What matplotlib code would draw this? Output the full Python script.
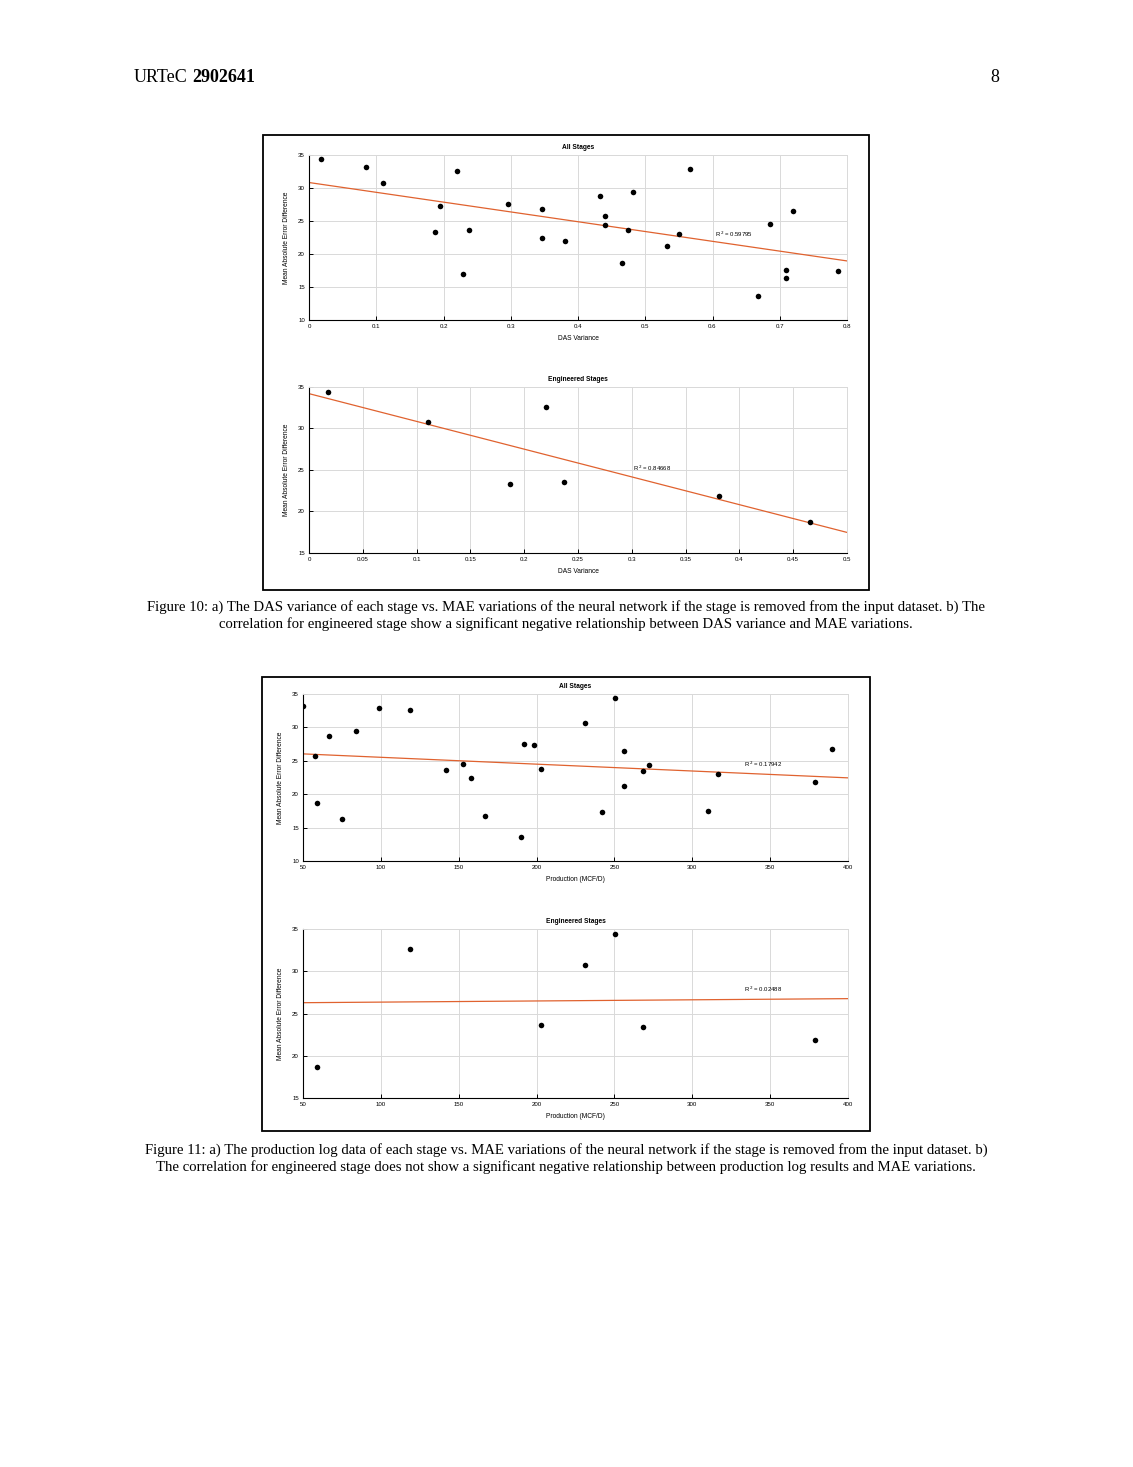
import matplotlib
matplotlib.use("Agg")
import matplotlib.pyplot as plt
from matplotlib.patches import Rectangle

# ---------------- data ----------------
das_all_x = [0.018, 0.085, 0.110, 0.220, 0.195, 0.187, 0.238, 0.229, 0.296, 0.347,
             0.347, 0.381, 0.432, 0.440, 0.440, 0.474, 0.465, 0.482, 0.533, 0.550,
             0.567, 0.668, 0.685, 0.719, 0.710, 0.710, 0.786]
das_all_y = [34.35, 33.2, 30.7, 32.6, 27.3, 23.4, 23.6, 16.9, 27.5, 26.75,
             22.5, 21.9, 28.8, 25.8, 24.4, 23.7, 18.7, 29.4, 21.2, 23.1,
             32.9, 13.6, 24.5, 26.5, 17.6, 16.4, 17.5]
das_all_fit = (30.83, -14.85)       # intercept, slope
das_all_r2 = "0.59795"

das_eng_x = [0.0174, 0.1107, 0.1867, 0.2203, 0.2373, 0.3813, 0.466]
das_eng_y = [34.44, 30.76, 23.36, 32.6, 23.6, 21.84, 18.68]
das_eng_fit = (34.2, -33.44)
das_eng_r2 = "0.84668"

prod_all_x = [50.0, 57.8, 59.0, 67.0, 74.8, 83.8, 98.9, 118.9, 142.0, 153.0,
              158.0, 167.0, 190.1, 192.1, 198.1, 203.1, 231.2, 242.2, 250.2, 256.2,
              256.2, 268.2, 272.2, 316.3, 310.3, 378.5, 389.5]
prod_all_y = [33.18, 25.75, 18.66, 28.75, 16.35, 29.39, 32.88, 32.54, 23.63, 24.47,
              22.45, 16.8, 13.6, 27.5, 27.3, 23.7, 30.7, 17.4, 34.36, 26.44,
              21.18, 23.4, 24.3, 23.0, 17.5, 21.8, 26.73]
prod_all_fit = (26.55, -0.01026)
prod_all_r2 = "0.17942"

prod_eng_x = [59.0, 118.9, 203.1, 231.2, 250.2, 268.2, 378.5]
prod_eng_y = [18.67, 32.6, 23.6, 30.74, 34.41, 23.4, 21.86]
prod_eng_fit = (26.21, 0.00137)
prod_eng_r2 = "0.02488"

das_ticks_all = [0, 0.1, 0.2, 0.3, 0.4, 0.5, 0.6, 0.7, 0.8]
das_ticks_eng = [0, 0.05, 0.1, 0.15, 0.2, 0.25, 0.3, 0.35, 0.4, 0.45, 0.5]
prod_ticks = [50, 100, 150, 200, 250, 300, 350, 400]

# ---------------- figure ----------------
W, H = 1133, 1467
fig = plt.figure(figsize=(W / 100, H / 100), dpi=100)
plt.rcParams['font.family'] = ['Liberation Sans', 'DejaVu Sans']

def rect(l, t, r, b):
    return [l / W, 1 - b / H, (r - l) / W, (b - t) / H]

LINE_COL = '#E0622F'

def panel(box, xs, ys, fit, r2, xlim, xticks, ylim, yticks, title, xlabel, r2pos):
    ax = fig.add_axes(rect(*box))
    ax.set_xlim(*xlim)
    ax.set_ylim(*ylim)
    ax.set_xticks(xticks)
    ax.set_xticklabels([("%g" % t) for t in xticks])
    ax.set_yticks(yticks)
    ax.grid(True, color='#d9d9d9', linewidth=0.7)
    ax.set_axisbelow(True)
    for s in ['top', 'right']:
        ax.spines[s].set_color('#d9d9d9')
        ax.spines[s].set_linewidth(0.7)
    for s in ['left', 'bottom']:
        ax.spines[s].set_color('black')
        ax.spines[s].set_linewidth(0.8)
    ax.tick_params(direction='in', length=3, width=0.7, labelsize=4.4, pad=3)
    ax.plot([xlim[0], xlim[1]], [fit[0] + fit[1] * xlim[0], fit[0] + fit[1] * xlim[1]],
            color=LINE_COL, linewidth=0.9, zorder=2)
    ax.scatter(xs, ys, s=16, color='black', zorder=3, linewidths=0)
    ax.set_title(title, fontsize=4.8, fontweight='bold', pad=4)
    ax.set_xlabel(xlabel, fontsize=4.8, labelpad=4)
    ax.set_ylabel('Mean Absolute Error Difference', fontsize=4.8, labelpad=6)
    ax.text(r2pos[0], r2pos[1], 'R$^{\\,2}$ = ' + r2, fontsize=4.3, ha='left', va='center')
    return ax

panel((309, 155, 847, 320), das_all_x, das_all_y, das_all_fit, das_all_r2,
      (0, 0.8), das_ticks_all, (10, 35), [10, 15, 20, 25, 30, 35],
      'All Stages', 'DAS Variance', (0.603, 23.0))
panel((309, 387, 847, 553), das_eng_x, das_eng_y, das_eng_fit, das_eng_r2,
      (0, 0.5), das_ticks_eng, (15, 35), [15, 20, 25, 30, 35],
      'Engineered Stages', 'DAS Variance', (0.301, 25.2))
panel((303, 694, 848, 861), prod_all_x, prod_all_y, prod_all_fit, prod_all_r2,
      (50, 400), prod_ticks, (10, 35), [10, 15, 20, 25, 30, 35],
      'All Stages', 'Production (MCF/D)', (333, 24.4))
panel((303, 929, 848, 1098), prod_eng_x, prod_eng_y, prod_eng_fit, prod_eng_r2,
      (50, 400), prod_ticks, (15, 35), [15, 20, 25, 30, 35],
      'Engineered Stages', 'Production (MCF/D)', (333, 27.9))

# frames
for (l, t, r, b) in [(263, 135, 869, 590), (262, 677, 870, 1131)]:
    fig.patches.append(Rectangle((l / W, 1 - b / H), (r - l) / W, (b - t) / H,
                                 transform=fig.transFigure, fill=False,
                                 edgecolor='black', linewidth=1.3))

serif = ['Liberation Serif', 'DejaVu Serif']
fig.text(134 / W, 1 - 77 / H, 'URTeC', fontsize=13, family=serif, va='center', ha='left')
fig.text(192 / W, 1 - 77 / H, '2902641', fontsize=13, family=serif, va='center', ha='left',
         fontweight='bold')
fig.text(999 / W, 1 - 77 / H, '8', fontsize=13, family=serif, va='center', ha='right')

cap10 = ("Figure 10: a) The DAS variance of each stage vs. MAE variations of the neural network if the stage is removed from the input dataset. b) The\n"
         "correlation for engineered stage show a significant negative relationship between DAS variance and MAE variations.")
cap11 = ("Figure 11: a) The production log data of each stage vs. MAE variations of the neural network if the stage is removed from the input dataset. b)\n"
         "The correlation for engineered stage does not show a significant negative relationship between production log results and MAE variations.")
fig.text(566 / W, 1 - 616 / H, cap10, fontsize=10.6, family=serif, ha='center', va='center',
         linespacing=1.3)
fig.text(566 / W, 1 - 1159 / H, cap11, fontsize=10.6, family=serif, ha='center', va='center',
         linespacing=1.3)

fig.savefig('out.png', dpi=100)
